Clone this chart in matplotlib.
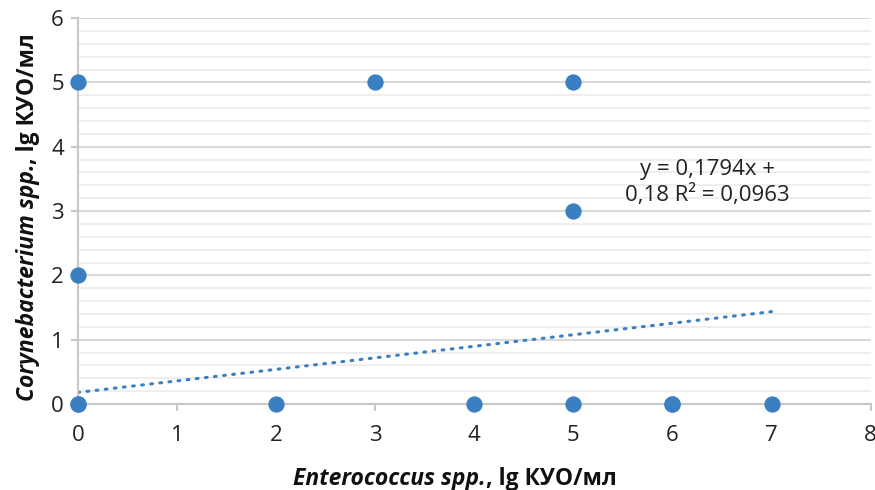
import matplotlib
matplotlib.use("Agg")
import matplotlib.pyplot as plt
import numpy as np
from matplotlib.ticker import MultipleLocator

plt.rcParams['font.family'] = ['Open Sans', 'DejaVu Sans']

# data
enterococcus = [0, 0, 0, 0, 3, 5, 5, 2, 4, 5, 6, 6, 7]
corynebacterium = [0, 5, 2, 0, 5, 5, 3, 0, 0, 0, 0, 0, 0]
trend_slope = 0.1794
trend_intercept = 0.18
trend_x = [0, 7]
x_label = ('Enterococcus spp.', ', lg КУО/мл')
y_label = ('Corynebacterium spp.', ', lg КУО/мл')

blue = '#3a7fc1'
grid_major = '#d9d9d9'
grid_minor = '#eeeeee'
W, H = 875, 490

fig = plt.figure(figsize=(8.75, 4.9), dpi=100)
ax = fig.add_axes([0.089, 0.1755, 0.906, 0.7875])

ax.scatter(enterococcus, corynebacterium, s=115, color=blue, zorder=3, clip_on=False)

tx = np.array(trend_x, dtype=float)
ax.plot(tx, trend_slope * tx + trend_intercept, color=blue, lw=2.2,
        linestyle=(0, (0.6, 2.4)), dash_capstyle='round', zorder=2)

ax.text(6.35, 3.45, "y = 0,1794x +\n0,18 R² = 0,0963", ha='center', va='center',
        fontsize=16, color='#222222', linespacing=1.25)

ax.set_xlim(0, 8)
ax.set_ylim(0, 6)
ax.xaxis.set_major_locator(MultipleLocator(1))
ax.yaxis.set_major_locator(MultipleLocator(1))
ax.yaxis.set_minor_locator(MultipleLocator(0.2))
ax.grid(axis='y', which='major', color=grid_major, lw=1.5, zorder=0)
ax.grid(axis='y', which='minor', color=grid_minor, lw=1.5, zorder=0)
ax.set_axisbelow(True)

for s in ['top', 'right']:
    ax.spines[s].set_visible(False)
for s in ['left', 'bottom']:
    ax.spines[s].set_color('#c8c8c8')
    ax.spines[s].set_linewidth(1.5)

ax.tick_params(axis='both', which='major', length=5, width=1.5, color='#c8c8c8',
               labelsize=16, labelcolor='#222222', pad=5)
ax.tick_params(axis='y', which='minor', length=0)
ax.tick_params(axis='x', pad=10)

# axis titles: italic bold latin part + bold rest, placed piece by piece
renderer = fig.canvas.get_renderer()
lab_size = 16.5
kw = dict(fontsize=lab_size, fontweight='bold', color='#111111')


def two_part(parts, center, base, vertical=False):
    rot = 90 if vertical else 0
    t1 = fig.text(0, 0, parts[0], style='italic', rotation=rot, rotation_mode='anchor',
                  ha='left', va='baseline', **kw)
    t2 = fig.text(0, 0, parts[1], rotation=rot, rotation_mode='anchor',
                  ha='left', va='baseline', **kw)
    b1 = t1.get_window_extent(renderer)
    b2 = t2.get_window_extent(renderer)
    if vertical:
        l1, l2 = b1.height, b2.height
        start = center - (l1 + l2) / 2
        t1.set_position((base / W, start / H))
        t2.set_position((base / W, (start + l1) / H))
    else:
        l1, l2 = b1.width, b2.width
        start = center - (l1 + l2) / 2
        t1.set_position((start / W, base / H))
        t2.set_position(((start + l1) / W, base / H))


two_part(x_label, 455, H - 485)
two_part(y_label, H - 217, 34, vertical=True)

fig.savefig('out.png', dpi=100)
